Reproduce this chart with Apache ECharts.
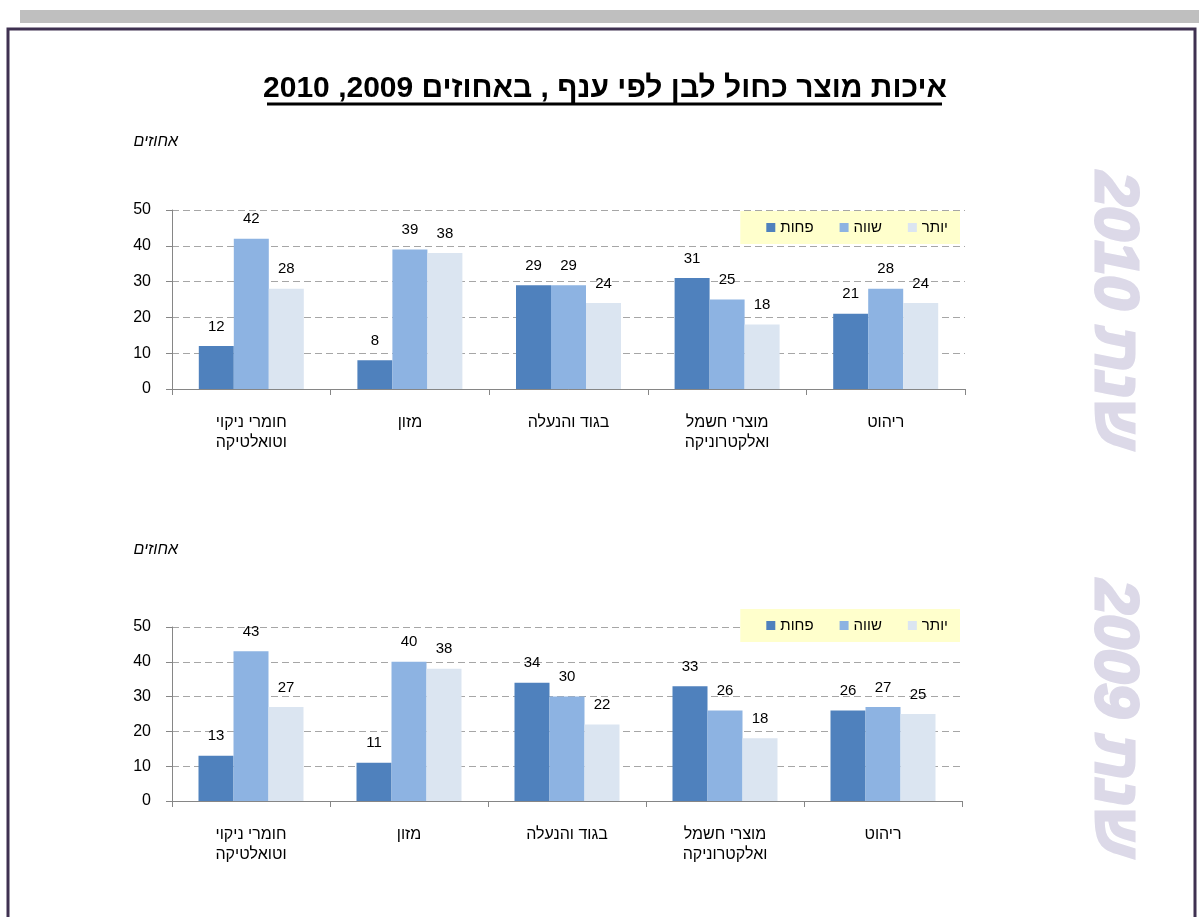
<!DOCTYPE html>
<html>
<head>
<meta charset="utf-8">
<script src="https://cdn.jsdelivr.net/npm/echarts@6/dist/echarts.min.js"></script>
<style>
  html, body { margin: 0; padding: 0; background: #fff; }
  #chart { width: 1199px; height: 917px; direction: rtl; }
</style>
</head>
<body>
<div id="chart"></div>
<script>
// categories as they appear left to right
const categories = ['חומרי ניקוי\nוטואלטיקה', 'מזון', 'בגוד והנעלה', 'מוצרי חשמל\nואלקטרוניקה', 'ריהוט']
const seriesNames = ['פחות', 'שווה', 'יותר']
const seriesColors = ['#4f81bd', '#8db3e2', '#dbe5f1']

// 2010
const less2010 = [12, 8, 29, 31, 21]
const same2010 = [42, 39, 29, 25, 28]
const more2010 = [28, 38, 24, 18, 24]

// 2009
const less2009 = [13, 11, 34, 33, 26]
const same2009 = [43, 40, 30, 26, 27]
const more2009 = [27, 38, 22, 18, 25]

const yTicks = [0, 10, 20, 30, 40, 50]

const FONT = '"Liberation Sans", Arial, sans-serif'

const chart = echarts.init(document.getElementById('chart'))

function xAxis(gridIndex) {
  return {
    type: 'category',
    gridIndex,
    data: categories,
    axisLine: { lineStyle: { color: '#868686', width: 1 } },
    axisTick: { show: true, length: 6, interval: 0, lineStyle: { color: '#868686' } },
    axisLabel: {
      interval: 0,
      margin: 24,
      color: '#000',
      fontFamily: FONT,
      fontSize: 16,
      lineHeight: 20
    }
  }
}

function yAxis(gridIndex) {
  return {
    type: 'value',
    gridIndex,
    min: yTicks[0],
    max: yTicks[yTicks.length - 1],
    interval: 10,
    axisLine: { show: true, lineStyle: { color: '#868686' } },
    axisTick: { show: true, length: 6, lineStyle: { color: '#868686' } },
    axisLabel: { color: '#000', fontFamily: FONT, fontSize: 16, margin: 21 },
    splitLine: { lineStyle: { color: '#a6a6a6', type: [7, 4], width: 1 } }
  }
}

function bar(name, data, idx, axisIndex) {
  return {
    name,
    type: 'bar',
    xAxisIndex: axisIndex,
    yAxisIndex: axisIndex,
    data,
    barWidth: 35,
    barGap: '0%',
    itemStyle: { color: seriesColors[idx] },
    label: {
      show: true,
      position: 'top',
      distance: 12,
      color: '#000',
      fontFamily: FONT,
      fontSize: 15
    }
  }
}

function legend(top) {
  return {
    data: seriesNames,
    top,
    right: 239,
    orient: 'horizontal',
    backgroundColor: '#ffffcc',
    padding: [9, 12, 9, 26],
    itemGap: 26,
    itemWidth: 9,
    itemHeight: 9,
    icon: 'rect',
    textStyle: { color: '#000', fontFamily: FONT, fontSize: 15 }
  }
}

function sideText(text, y) {
  return {
    type: 'text',
    x: 1113,
    y,
    rotation: -Math.PI / 2,
    style: {
      text,
      fill: '#dcd9e8',
      stroke: '#dcd9e8',
      lineWidth: 3,
      font: 'italic bold 62px ' + FONT,
      align: 'center',
      verticalAlign: 'middle',
      shadowColor: '#8c8c8c',
      shadowOffsetX: 4,
      shadowOffsetY: 3,
      shadowBlur: 0
    }
  }
}

const option = {
  animation: false,
  textStyle: { fontFamily: FONT },
  grid: [
    { left: 172, top: 210, width: 793, height: 179 },
    { left: 172, top: 627, width: 790, height: 174 }
  ],
  xAxis: [xAxis(0), xAxis(1)],
  yAxis: [yAxis(0), yAxis(1)],
  legend: [legend(211), legend(609)],
  series: [
    bar(seriesNames[0], less2010, 0, 0),
    bar(seriesNames[1], same2010, 1, 0),
    bar(seriesNames[2], more2010, 2, 0),
    bar(seriesNames[0], less2009, 0, 1),
    bar(seriesNames[1], same2009, 1, 1),
    bar(seriesNames[2], more2009, 2, 1)
  ],
  graphic: [
    // gray strip at the top
    { type: 'rect', shape: { x: 20, y: 10, width: 1179, height: 13 }, style: { fill: '#bfbfbf' } },
    // page frame
    { type: 'polyline', shape: { points: [[8, 917], [8, 29], [1195, 29], [1195, 917]] },
      style: { stroke: '#3f3151', lineWidth: 3, fill: null } },
    // title + underline
    { type: 'text', x: 605, y: 89,
      style: { text: 'איכות מוצר כחול לבן לפי ענף , באחוזים 2009, 2010', fill: '#000',
        font: 'bold 30px ' + FONT, align: 'center', verticalAlign: 'middle' } },
    { type: 'line', shape: { x1: 267, y1: 104, x2: 942, y2: 104 }, style: { stroke: '#000', lineWidth: 3 } },
    // unit labels
    { type: 'text', x: 178, y: 142,
      style: { text: 'אחוזים', fill: '#000', font: 'italic 16px ' + FONT, align: 'right', verticalAlign: 'middle' } },
    { type: 'text', x: 178, y: 550,
      style: { text: 'אחוזים', fill: '#000', font: 'italic 16px ' + FONT, align: 'right', verticalAlign: 'middle' } },
    sideText('שנת 2010', 310),
    sideText('שנת 2009', 718)
  ]
}

chart.setOption(option)
window.addEventListener('resize', () => chart.resize())
</script>
</body>
</html>
